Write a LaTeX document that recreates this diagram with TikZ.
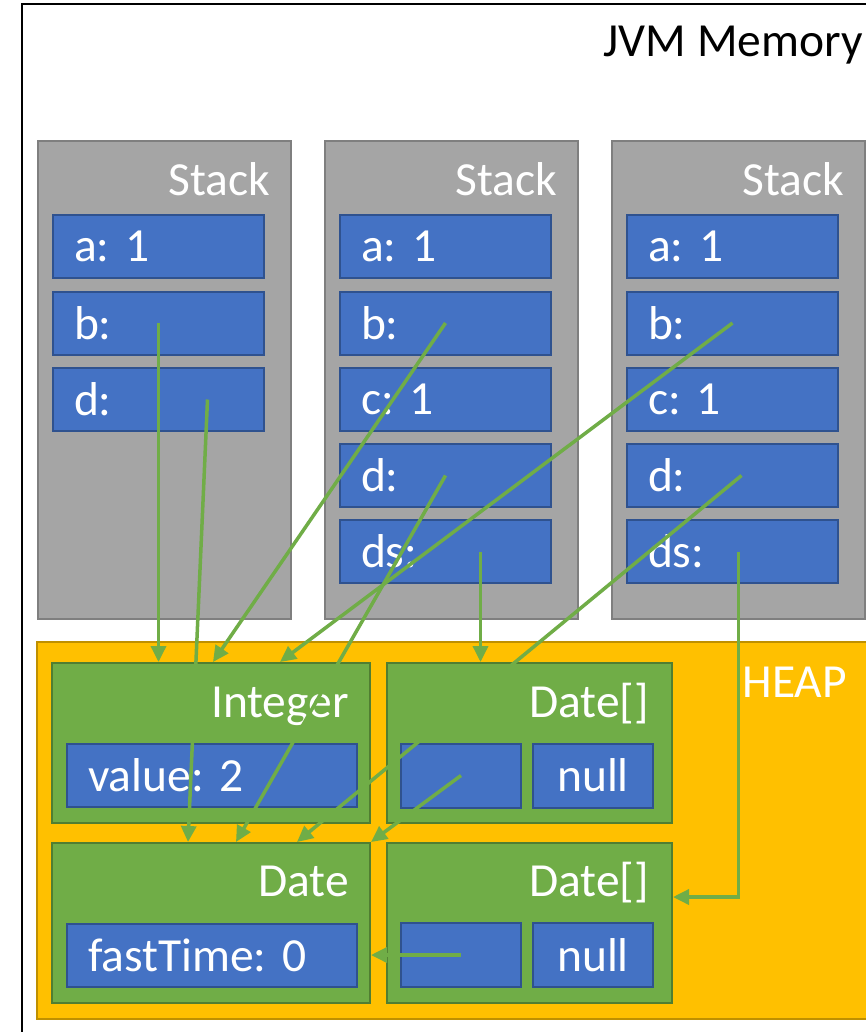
\documentclass[tikz,border=0pt]{standalone}
\usepackage{fontspec}
\setmainfont{Carlito}
\usetikzlibrary{arrows.meta}
\frenchspacing

\definecolor{stackgray}{HTML}{A5A5A5}
\definecolor{stackedge}{HTML}{7F7F7F}
\definecolor{slotblue}{HTML}{4472C4}
\definecolor{slotedge}{HTML}{2F528F}
\definecolor{objgreen}{HTML}{70AD47}
\definecolor{objedge}{HTML}{507E32}
\definecolor{heapgold}{HTML}{FFC000}
\definecolor{heapedge}{HTML}{BF9000}

\begin{document}
\begin{tikzpicture}[x=1pt, y=-1pt,
    big/.style={font=\fontsize{47.5}{52}\selectfont, inner sep=0pt},
    stackbox/.style={draw=stackedge, fill=stackgray, line width=2pt, minimum width=253pt, minimum height=478pt},
    objbox/.style={draw=objedge, fill=objgreen, line width=2pt, minimum width=#1, minimum height=160pt},
    varslot/.style={draw=slotedge, fill=slotblue, line width=2pt, minimum height=63pt, text=white,
        font=\fontsize{47.5}{52}\selectfont, text width=#1, align=left, inner xsep=21pt, inner ysep=0pt},
    cell/.style={draw=slotedge, fill=slotblue, line width=2pt, minimum width=120pt, minimum height=64pt,
        text=white, font=\fontsize{47.5}{52}\selectfont, inner sep=0pt},
    ptr/.style={draw=objgreen, line width=3.5pt, -{Triangle[length=16pt, width=15pt]}}]

    \useasboundingbox (0, 0) rectangle (866, 1032);
    \clip (0, 0) rectangle (866, 1032);
    \fill[white] (0, 0) rectangle (866, 1032);

    % Nodes
    \node at (461, 532) (jvm) [draw, line width=2.5pt, minimum width=878pt, minimum height=1056pt] {};
    \node at (863, 57) (jvmlabel) [big, anchor=base east] {JVM Memory};

    \node at (164.5, 380) (stackA) [stackbox] {};
    \node at (270, 196) (stackAlabel) [big, text=white, anchor=base east] {Stack};
    \node at (158.5, 246.5) (aA) [varslot=169pt] {a: 1};
    \node at (158.5, 323) (bA) [varslot=169pt] {b:};
    \node at (158.5, 399.5) (dA) [varslot=169pt] {d:};

    \node at (451.5, 380) (stackB) [stackbox] {};
    \node at (557, 196) (stackBlabel) [big, text=white, anchor=base east] {Stack};
    \node at (445.5, 246.5) (aB) [varslot=169pt] {a: 1};
    \node at (445.5, 323) (bB) [varslot=169pt] {b:};
    \node at (445.5, 399.5) (cB) [varslot=169pt] {c: 1};
    \node at (445.5, 475.5) (dB) [varslot=169pt] {d:};
    \node at (445.5, 551.5) (dsB) [varslot=169pt] {ds:};

    \node at (738.5, 380) (stackC) [stackbox] {};
    \node at (844, 196) (stackClabel) [big, text=white, anchor=base east] {Stack};
    \node at (732.5, 246.5) (aC) [varslot=169pt] {a: 1};
    \node at (732.5, 323) (bC) [varslot=169pt] {b:};
    \node at (732.5, 399.5) (cC) [varslot=169pt] {c: 1};
    \node at (732.5, 475.5) (dC) [varslot=169pt] {d:};
    \node at (732.5, 551.5) (dsC) [varslot=169pt] {ds:};

    \node at (470, 830.5) (heap) [draw=heapedge, fill=heapgold, line width=2pt, minimum width=866pt, minimum height=377pt] {};
    \node at (847, 697) (heaplabel) [big, text=white, anchor=base east] {HEAP};

    \node at (211, 743) (intBox) [objbox=318pt] {};
    \node at (349, 717) (intlabel) [big, text=white, anchor=base east] {Integer};
    \node at (212, 775.5) (valSlot) [varslot=248pt] {value: 2};

    \node at (529.5, 743) (arrBox1) [objbox=285pt] {};
    \node at (649, 717) (arr1label) [big, text=white, anchor=base east] {Date[]};
    \node at (461, 775.5) (arr1s1) [cell] {};
    \node at (593, 775.5) (arr1s2) [cell] {null};

    \node at (211, 923) (dateBox) [objbox=318pt] {};
    \node at (349, 896) (datelabel) [big, text=white, anchor=base east] {Date};
    \node at (212, 955) (fastSlot) [varslot=248pt] {fastTime: 0};

    \node at (529.5, 923) (arrBox2) [objbox=285pt] {};
    \node at (649, 896) (arr2label) [big, text=white, anchor=base east] {Date[]};
    \node at (461, 955) (arr2s1) [cell] {};
    \node at (593, 955) (arr2s2) [cell] {null};

    % Arrows
    \draw[ptr] (bA.center) -- (bA.center |- intBox.north);
    \draw[ptr] ([xshift=49pt]dA.center) -- ([xshift=137pt]dateBox.north west);
    \draw[ptr] (bB.center) -- ([xshift=162pt]intBox.north west);
    \draw[ptr] (bC.center) -- ([xshift=229pt]intBox.north west);
    \draw[ptr] (dB.center) -- ([xshift=185pt]dateBox.north west);
    \draw[ptr] ([xshift=35pt]dsB.center) -- ([xshift=-49pt]arrBox1.north);
    \draw[ptr] ([xshift=9pt]dC.center) -- ([xshift=246pt]dateBox.north west);
    \draw[ptr] ([xshift=6pt]dsC.center) |- ([yshift=26pt]arrBox2.east);
    \draw[ptr] (arr1s1.center) -- (dateBox.north east);
    \draw[ptr] (arr2s1.center) -- (arr2s1.center -| dateBox.east);

\end{tikzpicture}
\end{document}
